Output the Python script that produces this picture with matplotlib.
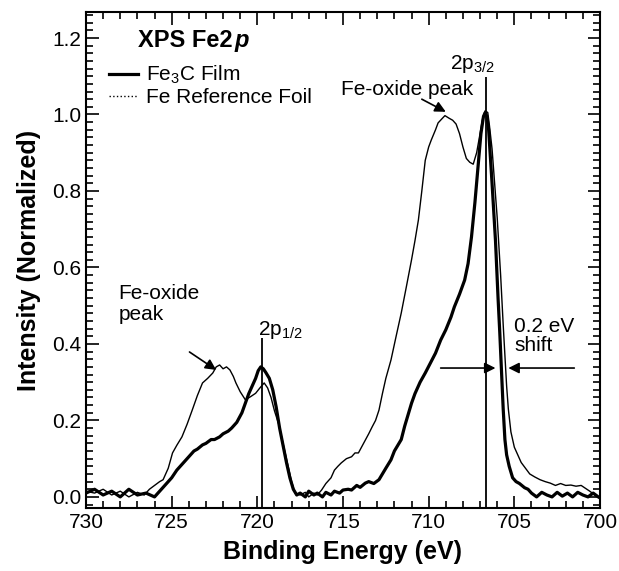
import matplotlib
matplotlib.use('Agg')
import matplotlib.pyplot as plt
from matplotlib.lines import Line2D
from matplotlib.ticker import MultipleLocator, FormatStrFormatter

plt.rcParams['font.family'] = ['Liberation Sans', 'DejaVu Sans']
plt.rcParams['mathtext.fontset'] = 'custom'
plt.rcParams['mathtext.rm'] = 'Liberation Sans'
plt.rcParams['mathtext.it'] = 'Liberation Sans:italic'
plt.rcParams['mathtext.bf'] = 'Liberation Sans:bold'

# Fe3C film (thick line)
film_e = [730.0, 729.5, 729.0, 728.5, 728.0, 727.5, 727.0, 726.5, 726.0, 725.7,
          725.5, 725.2, 725.0, 724.7, 724.5, 724.2, 724.0, 723.7, 723.5, 723.2,
          723.0, 722.7, 722.5, 722.2, 722.0, 721.7, 721.5, 721.2, 720.9, 720.7,
          720.5, 720.3, 720.1, 719.95, 719.8, 719.65, 719.5, 719.3, 719.1, 718.9,
          718.7, 718.5, 718.3, 718.1, 717.9, 717.7, 717.5, 717.2, 717.0, 716.7,
          716.5, 716.2, 716.0, 715.7, 715.5, 715.2, 715.0, 714.7, 714.5, 714.2,
          714.0, 713.7, 713.5, 713.2, 712.9, 712.7, 712.5, 712.2, 712.0, 711.8,
          711.6, 711.4, 711.2, 711.0, 710.8, 710.5, 710.2, 709.9, 709.6, 709.3,
          709.0, 708.7, 708.5, 708.2, 707.9, 707.7, 707.5, 707.3, 707.1, 706.95,
          706.8, 706.7, 706.6, 706.5, 706.3, 706.1, 705.95, 705.85, 705.75, 705.65,
          705.55, 705.45, 705.3, 705.1, 704.9, 704.7, 704.4, 704.2, 704.0, 703.7,
          703.4, 703.1, 702.8, 702.5, 702.2, 701.9, 701.6, 701.3, 701.0, 700.7,
          700.4, 700.1]
film_i = [0.010, 0.020, 0.005, 0.015, 0.000, 0.020, 0.005, 0.010, 0.000, 0.015,
          0.025, 0.040, 0.050, 0.070, 0.080, 0.095, 0.105, 0.120, 0.125, 0.136,
          0.140, 0.150, 0.150, 0.157, 0.165, 0.172, 0.180, 0.195, 0.220, 0.245,
          0.270, 0.290, 0.310, 0.330, 0.340, 0.335, 0.325, 0.310, 0.280, 0.235,
          0.180, 0.135, 0.090, 0.050, 0.020, 0.005, 0.010, 0.000, 0.015, 0.005,
          0.010, 0.000, 0.012, 0.005, 0.015, 0.010, 0.018, 0.020, 0.018, 0.030,
          0.025, 0.036, 0.040, 0.035, 0.045, 0.060, 0.075, 0.097, 0.120, 0.135,
          0.150, 0.185, 0.215, 0.245, 0.270, 0.300, 0.324, 0.350, 0.376, 0.410,
          0.437, 0.470, 0.497, 0.530, 0.567, 0.610, 0.680, 0.770, 0.873, 0.950,
          0.995, 1.005, 0.995, 0.960, 0.820, 0.670, 0.520, 0.430, 0.330, 0.230,
          0.150, 0.110, 0.080, 0.050, 0.040, 0.035, 0.024, 0.020, 0.010, 0.000,
          0.012, 0.005, 0.000, 0.012, 0.002, 0.010, 0.000, 0.012, 0.005, 0.000,
          0.010, 0.000]

# Fe reference foil (thin line)
foil_e = [730.0, 729.5, 729.0, 728.5, 728.0, 727.5, 727.0, 726.6, 726.3, 726.0,
          725.7, 725.5, 725.2, 724.95, 724.7, 724.4, 724.1, 723.8, 723.5, 723.2,
          722.9, 722.6, 722.4, 722.2, 722.0, 721.8, 721.6, 721.4, 721.25, 721.0,
          720.7, 720.4, 720.1, 719.85, 719.6, 719.4, 719.2, 719.0, 718.75, 718.5,
          718.2, 718.0, 717.8, 717.5, 717.2, 717.0, 716.7, 716.5, 716.25, 716.0,
          715.7, 715.5, 715.3, 715.1, 714.8, 714.5, 714.3, 714.1, 713.8, 713.5,
          713.3, 713.1, 712.9, 712.7, 712.5, 712.2, 711.9, 711.6, 711.3, 711.0,
          710.8, 710.6, 710.4, 710.2, 710.0, 709.85, 709.6, 709.45, 709.2, 709.05,
          708.8, 708.6, 708.4, 708.2, 708.0, 707.8, 707.6, 707.4, 707.2, 707.0,
          706.85, 706.7, 706.55, 706.45, 706.3, 706.0, 705.8, 705.65, 705.55, 705.45,
          705.35, 705.2, 705.0, 704.8, 704.6, 704.4, 704.1, 703.8, 703.5, 703.2,
          702.9, 702.6, 702.3, 702.0, 701.7, 701.4, 701.1, 700.9, 700.6, 700.3,
          700.1]
foil_i = [0.015, 0.010, 0.020, 0.005, 0.015, 0.000, 0.012, 0.005, 0.020, 0.030,
          0.040, 0.045, 0.075, 0.115, 0.135, 0.157, 0.190, 0.227, 0.265, 0.298,
          0.310, 0.324, 0.340, 0.345, 0.335, 0.340, 0.332, 0.315, 0.298, 0.275,
          0.254, 0.262, 0.271, 0.285, 0.298, 0.285, 0.260, 0.225, 0.190, 0.140,
          0.080, 0.040, 0.010, 0.005, 0.012, 0.000, 0.010, 0.005, 0.018, 0.035,
          0.050, 0.070, 0.080, 0.089, 0.100, 0.105, 0.115, 0.115, 0.140, 0.165,
          0.183, 0.200, 0.227, 0.270, 0.310, 0.358, 0.420, 0.481, 0.550, 0.620,
          0.670, 0.724, 0.800, 0.880, 0.915, 0.933, 0.960, 0.978, 0.990, 0.997,
          0.990, 0.985, 0.975, 0.950, 0.915, 0.885, 0.875, 0.870, 0.900, 0.950,
          0.990, 1.010, 1.005, 0.970, 0.910, 0.730, 0.580, 0.450, 0.370, 0.290,
          0.230, 0.170, 0.130, 0.110, 0.090, 0.078, 0.060, 0.052, 0.045, 0.040,
          0.036, 0.030, 0.035, 0.030, 0.031, 0.028, 0.030, 0.024, 0.015, 0.005,
          0.000]

peak_12 = 719.75
peak_32 = 706.67

fig = plt.figure(figsize=(6.19, 5.71), dpi=100)
ax = fig.add_axes([86/619, 1 - 508/571, 514/619, 496/571])

ax.plot(foil_e, foil_i, color='black', lw=1.0)
ax.plot(film_e, film_i, color='black', lw=2.3)

ax.set_xlim(730, 700)
ax.set_ylim(-0.029, 1.268)
ax.xaxis.set_major_locator(MultipleLocator(5))
ax.xaxis.set_minor_locator(MultipleLocator(1))
ax.yaxis.set_major_locator(MultipleLocator(0.2))
ax.yaxis.set_minor_locator(MultipleLocator(0.02))
ax.yaxis.set_major_formatter(FormatStrFormatter('%.1f'))
ax.tick_params(which='both', direction='in', top=True, right=True,
               labelsize=15, width=1.2)
ax.tick_params(which='major', length=9)
ax.tick_params(which='minor', length=5)
for s in ax.spines.values():
    s.set_linewidth(1.5)

ax.set_xlabel('Binding Energy (eV)', fontsize=18, fontweight='bold', labelpad=6)
ax.set_ylabel('Intensity (Normalized)', fontsize=18, fontweight='bold', labelpad=8)

# peak markers
ax.vlines(peak_12, -0.029, 0.415, color='black', lw=1.3)
ax.vlines(peak_32, -0.029, 1.098, color='black', lw=1.3)
ax.text(719.95, 0.424, r'2p$_{1/2}$', fontsize=15, ha='left', va='baseline')
ax.text(708.75, 1.12, r'2p$_{3/2}$', fontsize=15, ha='left', va='baseline')

arrow = dict(arrowstyle='-|>', color='black', lw=1.2, mutation_scale=16,
             shrinkA=0, shrinkB=0)
ax.text(707.4, 1.051, 'Fe-oxide peak', fontsize=15, ha='right', va='baseline')
ax.annotate('', xy=(709.0, 1.007), xytext=(710.4, 1.04), arrowprops=arrow)
ax.text(728.1, 0.505, 'Fe-oxide\npeak', fontsize=15, ha='left', va='center',
        linespacing=1.15)
ax.annotate('', xy=(722.4, 0.332), xytext=(723.96, 0.379), arrowprops=arrow)

# 0.2 eV shift
ax.annotate('', xy=(706.1, 0.337), xytext=(709.3, 0.337), arrowprops=arrow)
ax.annotate('', xy=(705.35, 0.337), xytext=(701.5, 0.337), arrowprops=arrow)
ax.text(705.0, 0.37, '0.2 eV\nshift', fontsize=15, ha='left', va='bottom',
        linespacing=1.0)

# title and legend
t = ax.text(726.95, 1.193, 'XPS Fe2', fontsize=17, fontweight='bold',
            ha='left', va='center')
ax.annotate('p', xy=(1, 0), xycoords=t, xytext=(1, 0), textcoords='offset points',
            fontsize=17, fontweight='bold', fontstyle='italic', va='bottom')
handles = [Line2D([], [], color='black', lw=2.3),
           Line2D([], [], color='black', lw=1.0, ls=':')]
ax.legend(handles, [r'Fe$_3$C Film', 'Fe Reference Foil'], loc='upper left',
          bbox_to_anchor=(0.044, 0.895), frameon=False, fontsize=15,
          handlelength=1.4, handletextpad=0.4, labelspacing=0.1,
          borderpad=0, borderaxespad=0)

fig.savefig('out.png', dpi=100)
